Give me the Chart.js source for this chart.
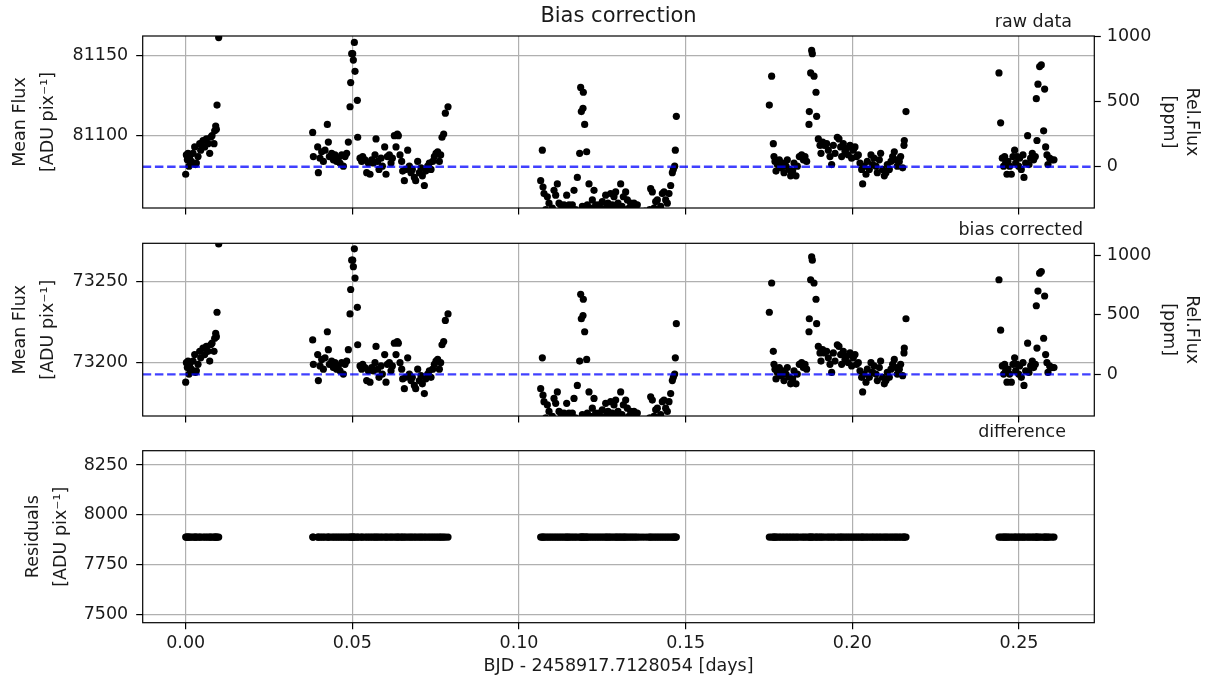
<!DOCTYPE html>
<html>
<head>
<meta charset="utf-8">
<title>Bias correction</title>
<script src="https://cdn.jsdelivr.net/npm/chart.js@4.4.1/dist/chart.umd.min.js"></script>
<style>
  body { margin: 0; background: #fff; }
  #wrap { position: relative; width: 1212px; height: 684px; }
  canvas { position: absolute; left: 0; }
</style>
</head>
<body>
<div id="wrap">
  <canvas id="rawChart" width="1212" height="216" style="top:0"></canvas>
  <canvas id="corrChart" width="1212" height="208" style="top:216px"></canvas>
  <canvas id="diffChart" width="1212" height="260" style="top:424px"></canvas>
</div>
<script>
// time since first exposure, one row group per visit [days]
const timeDays = [
  0.0000,0.0002,0.0005,0.0007,0.0010,0.0012,0.0017,0.0022,0.0027,0.0029,
  0.0032,0.0037,0.0042,0.0045,0.0052,0.0057,0.0062,0.0067,0.0072,0.0075,
  0.0079,0.0085,0.0087,0.0090,0.0092,0.0094,0.0099,

  0.0381,0.0383,0.0396,0.0398,0.0403,0.0408,0.0413,0.0418,0.0425,0.0428,
  0.0431,0.0438,0.0443,0.0448,0.0453,0.0458,0.0463,0.0468,0.0473,0.0478,
  0.0483,0.0488,0.0493,0.0495,0.0498,0.0501,0.0503,0.0506,0.0508,0.0515,
  0.0516,0.0523,0.0528,0.0531,0.0538,0.0543,0.0548,0.0553,0.0558,0.0563,
  0.0568,0.0571,0.0576,0.0580,0.0586,0.0590,0.0597,0.0601,0.0605,0.0611,
  0.0616,0.0620,0.0626,0.0631,0.0635,0.0638,0.0643,0.0648,0.0651,0.0656,
  0.0660,0.0666,0.0671,0.0676,0.0680,0.0686,0.0690,0.0696,0.0701,0.0706,
  0.0710,0.0716,0.0720,0.0726,0.0731,0.0736,0.0741,0.0746,0.0751,0.0756,
  0.0761,0.0765,0.0769,0.0774,0.0779,0.0787,

  0.1065,0.1070,0.1072,0.1075,0.1080,0.1085,0.1090,0.1095,0.1100,0.1105,
  0.1110,0.1115,0.1120,0.1125,0.1130,0.1135,0.1140,0.1143,0.1147,0.1150,
  0.1155,0.1160,0.1165,0.1170,0.1175,0.1182,0.1185,0.1187,0.1190,0.1192,
  0.1193,0.1197,0.1200,0.1203,0.1205,0.1210,0.1215,0.1220,0.1225,0.1230,
  0.1235,0.1240,0.1245,0.1250,0.1255,0.1260,0.1263,0.1267,0.1271,0.1275,
  0.1280,0.1285,0.1290,0.1293,0.1297,0.1301,0.1305,0.1309,0.1313,0.1317,
  0.1320,0.1325,0.1330,0.1335,0.1340,0.1345,0.1350,0.1355,0.1362,0.1370,
  0.1378,0.1386,0.1392,0.1395,0.1400,0.1405,0.1410,0.1415,0.1420,0.1425,
  0.1430,0.1435,0.1440,0.1445,0.1450,0.1455,0.1460,0.1463,0.1467,0.1469,
  0.1472,

  0.1751,0.1758,0.1763,0.1765,0.1768,0.1771,0.1775,0.1781,0.1785,0.1791,
  0.1795,0.1801,0.1805,0.1811,0.1815,0.1821,0.1825,0.1831,0.1835,0.1841,
  0.1848,0.1853,0.1858,0.1863,0.1870,0.1871,0.1875,0.1878,0.1880,0.1885,
  0.1891,0.1893,0.1898,0.1903,0.1906,0.1911,0.1916,0.1923,0.1928,0.1933,
  0.1938,0.1943,0.1948,0.1955,0.1960,0.1965,0.1968,0.1973,0.1978,0.1983,
  0.1988,0.1993,0.1998,0.2003,0.2008,0.2013,0.2018,0.2023,0.2028,0.2031,
  0.2035,0.2041,0.2045,0.2051,0.2056,0.2061,0.2065,0.2071,0.2075,0.2081,
  0.2085,0.2091,0.2096,0.2101,0.2105,0.2111,0.2116,0.2121,0.2126,0.2131,
  0.2135,0.2141,0.2145,0.2151,0.2155,0.2156,0.2161,

  0.2440,0.2445,0.2450,0.2454,0.2457,0.2460,0.2464,0.2467,0.2472,0.2477,
  0.2482,0.2487,0.2490,0.2494,0.2499,0.2502,0.2507,0.2512,0.2515,0.2520,
  0.2526,0.2530,0.2535,0.2540,0.2544,0.2549,0.2552,0.2554,0.2557,0.2562,
  0.2567,0.2574,0.2577,0.2580,0.2584,0.2587,0.2592,0.2599,0.2605
];

// mean flux before the bias frame is subtracted [ADU/pix]
const rawFlux = [
  81076,81088,81085,81089,81081,81087,81084,81089,81093,81082,
  81083,81087,81095,81091,81097,81093,81098,81095,81089,81099,
  81100,81095,81103,81106,81104,81119,81161,

  81102,81087,81093,81077,81086,81090,81084,81091,81107,81096,
  81087,81089,81085,81088,81084,81086,81083,81088,81081,81087,
  81089,81096,81118,81133,81151,81151,81147,81158,81140,81122,
  81099,81086,81084,81087,81085,81077,81083,81076,81085,81083,
  81088,81098,81084,81079,81086,81081,81093,81076,81087,81088,
  81083,81086,81100,81093,81101,81100,81088,81084,81078,81072,
  81079,81091,81081,81077,81079,81074,81072,81084,81077,81080,
  81075,81069,81078,81081,81083,81079,81084,81087,81089,81090,
  81084,81088,81099,81101,81114,81118,

  81072,81091,81068,81064,81054,81062,81058,81053,81055,81066,
  81063,81070,81058,81057,81054,81057,81055,81063,81054,81057,
  81055,81057,81066,81054,81074,81089,81130,81115,81056,81117,
  81127,81107,81054,81090,81057,81070,81055,81060,81066,81057,
  81054,81057,81055,81059,81054,81063,81056,81058,81055,81064,
  81057,81062,81065,81055,81058,81054,81070,81056,81062,81054,
  81065,81060,81055,81058,81054,81058,81055,81057,81052,81050,
  81053,81050,81054,81067,81065,81055,81059,81060,81054,81056,
  81064,81065,81060,81058,81064,81069,81077,81079,81081,81091,
  81112,

  81119,81137,81095,81087,81084,81078,81082,81085,81080,81083,
  81077,81081,81085,81079,81075,81078,81083,81075,81081,81087,
  81088,81085,81087,81084,81107,81115,81139,81153,81151,81137,
  81127,81112,81098,81094,81089,81096,81094,81095,81091,81087,
  81082,81094,81089,81099,81098,81093,81087,81095,81090,81092,
  81088,81094,81086,81091,81093,81087,81088,81083,81079,81070,
  81081,81076,81084,81079,81088,81082,81086,81081,81077,81085,
  81089,81079,81075,81077,81082,81079,81084,81087,81090,81085,
  81081,81084,81087,81080,81094,81097,81115,

  81139,81108,81086,81081,81087,81083,81076,81084,81081,81076,
  81087,81091,81083,81087,81081,81086,81079,81088,81074,81083,
  81100,81082,81086,81089,81085,81087,81123,81097,81132,81143,
  81144,81103,81129,81093,81088,81082,81086,81085,81085
];

// mean flux after bias subtraction [ADU/pix]
const correctedFlux = [
  73188,73200,73197,73201,73193,73199,73196,73201,73205,73194,
  73195,73199,73207,73203,73209,73205,73210,73207,73201,73211,
  73212,73207,73215,73218,73216,73231,73273,

  73214,73199,73205,73189,73198,73202,73196,73203,73219,73208,
  73199,73201,73197,73200,73196,73198,73195,73200,73193,73199,
  73201,73208,73230,73245,73263,73263,73259,73270,73252,73234,
  73211,73198,73196,73199,73197,73189,73195,73188,73197,73195,
  73200,73210,73196,73191,73198,73193,73205,73188,73199,73200,
  73195,73198,73212,73205,73213,73212,73200,73196,73190,73184,
  73191,73203,73193,73189,73191,73186,73184,73196,73189,73192,
  73187,73181,73190,73193,73195,73191,73196,73199,73201,73202,
  73196,73200,73211,73213,73226,73230,

  73184,73203,73180,73176,73166,73174,73170,73165,73167,73178,
  73175,73182,73170,73169,73166,73169,73167,73175,73166,73169,
  73167,73169,73178,73166,73186,73201,73242,73227,73168,73229,
  73239,73219,73166,73202,73169,73182,73167,73172,73178,73169,
  73166,73169,73167,73171,73166,73175,73168,73170,73167,73176,
  73169,73174,73177,73167,73170,73166,73182,73168,73174,73166,
  73177,73172,73167,73170,73166,73170,73167,73169,73164,73162,
  73165,73162,73166,73179,73177,73167,73171,73172,73166,73168,
  73176,73177,73172,73170,73176,73181,73189,73191,73193,73203,
  73224,

  73231,73249,73207,73199,73196,73190,73194,73197,73192,73195,
  73189,73193,73197,73191,73187,73190,73195,73187,73193,73199,
  73200,73197,73199,73196,73219,73227,73251,73265,73263,73249,
  73239,73224,73210,73206,73201,73208,73206,73207,73203,73199,
  73194,73206,73201,73211,73210,73205,73199,73207,73202,73204,
  73200,73206,73198,73203,73205,73199,73200,73195,73191,73182,
  73193,73188,73196,73191,73200,73194,73198,73193,73189,73197,
  73201,73191,73187,73189,73194,73191,73196,73199,73202,73197,
  73193,73196,73199,73192,73206,73209,73227,

  73251,73220,73198,73193,73199,73195,73188,73196,73193,73188,
  73199,73203,73195,73199,73193,73198,73191,73200,73186,73195,
  73212,73194,73198,73201,73197,73199,73235,73209,73244,73255,
  73256,73215,73241,73205,73200,73194,73198,73197,73197
];

// reference levels (dashed lines) = 0 ppm
const rawLevel = 81080.7;
const correctedLevel = 73192.8;

const xTicks = [0, 0.05, 0.10, 0.15, 0.20, 0.25];
const rawTicks = [81100, 81150];
const correctedTicks = [73200, 73250];
const residualTicks = [7500, 7750, 8000, 8250];
const ppmTicks = [0, 500, 1000];

const xLimits = [-0.0129, 0.2726];
const rawLimits = [81055, 81162];
const correctedLimits = [73167.2, 73273.4];
const residualLimits = [7457.8, 8321.8];

const FONT = 'DejaVu Sans';
const INK = '#1a1a1a';
const GRID = '#b0b0b0';
const LEFT_W = 142.7;   // left axis box width
const RIGHT_W = 117.7;  // right axis box width
const TICK_LEN = 6.5;

const toPpm = (flux, level) => (flux / level - 1) * 1e6;
const fixedTicks = values => scale => { scale.ticks = values.map(v => ({ value: v })); };
const points = ys => timeDays.map((t, i) => ({ x: t, y: ys[i] }));

// pin an axis box to a fixed size and drop the label overflow padding
function pinBox(prop, size) {
  return s => {
    s[prop] = size;
    s.paddingTop = 0;
    s.paddingBottom = 0;
    s.paddingLeft = 0;
    s.paddingRight = 0;
  };
}

// frame around the plot area + panel title / tag text
const panelText = {
  id: 'panelText',
  afterDraw(chart, args, opts) {
    const { ctx, chartArea: a } = chart;
    ctx.save();
    ctx.strokeStyle = '#000';
    ctx.lineWidth = 1.2;
    ctx.strokeRect(a.left, a.top, a.right - a.left, a.bottom - a.top);
    ctx.fillStyle = INK;
    ctx.textBaseline = 'middle';
    if (opts.title) {
      ctx.font = `21px "${FONT}"`;
      ctx.textAlign = 'center';
      ctx.fillText(opts.title, (a.left + a.right) / 2, opts.titleY);
    }
    if (opts.tag) {
      ctx.font = `17.5px "${FONT}"`;
      ctx.textAlign = 'right';
      ctx.fillText(opts.tag, opts.tagX, opts.tagY);
    }
    ctx.restore();
  }
};

function scatterSet(ys) {
  return {
    data: points(ys),
    pointRadius: 3.6,
    pointBackgroundColor: '#000',
    pointBorderWidth: 0,
    clip: 0,
    order: 1
  };
}

function levelLine(level) {
  return {
    type: 'line',
    data: [{ x: xLimits[0], y: level }, { x: xLimits[1], y: level }],
    borderColor: 'rgba(0,0,255,0.75)',
    borderWidth: 2.4,
    borderDash: [8.5, 3.7],
    pointRadius: 0,
    clip: 0,
    order: 0
  };
}

function makePanel(id, cfg) {
  const tickFont = { family: FONT, size: 17.5 };
  const scales = {
    x: {
      type: 'linear',
      min: xLimits[0],
      max: xLimits[1],
      afterBuildTicks: fixedTicks(xTicks),
      afterFit: pinBox('height', cfg.xHeight),
      grid: { color: GRID, lineWidth: 1.2, tickLength: TICK_LEN, tickColor: '#000', tickWidth: 1.2 },
      border: { display: false },
      ticks: {
        display: !!cfg.xTitle, padding: 3.6, color: INK, font: tickFont,
        maxRotation: 0, autoSkip: false, callback: v => v.toFixed(2)
      },
      title: {
        display: !!cfg.xTitle, text: cfg.xTitle, color: INK,
        font: { family: FONT, size: 17.5, lineHeight: 1.2 }, padding: { top: 0, bottom: 6.8 }
      }
    },
    y: {
      type: 'linear',
      position: 'left',
      min: cfg.limits[0],
      max: cfg.limits[1],
      afterBuildTicks: fixedTicks(cfg.yTicks),
      afterFit: pinBox('width', LEFT_W),
      grid: { color: GRID, lineWidth: 1.2, tickLength: TICK_LEN, tickColor: '#000', tickWidth: 1.2 },
      border: { display: false },
      ticks: { padding: 8, color: INK, font: tickFont, callback: v => String(v) },
      title: {
        display: true, text: cfg.yTitle, color: INK,
        font: { family: FONT, size: 17.5, lineHeight: '28px' }, padding: { top: cfg.yTitlePad, bottom: 0 }
      }
    }
  };
  if (cfg.level) {
    scales.ppm = {
      type: 'linear',
      position: 'right',
      min: toPpm(cfg.limits[0], cfg.level),
      max: toPpm(cfg.limits[1], cfg.level),
      afterBuildTicks: fixedTicks(ppmTicks),
      afterFit: pinBox('width', RIGHT_W),
      grid: { drawOnChartArea: false, tickLength: TICK_LEN, tickColor: '#000', tickWidth: 1.2 },
      border: { display: false },
      ticks: { padding: 6, color: INK, font: tickFont, callback: v => String(v) },
      title: {
        display: true, text: ['Rel.Flux', '[ppm]'], color: INK,
        font: { family: FONT, size: 17.5, lineHeight: '22.5px' }, padding: { top: 9.25, bottom: 0 }
      }
    };
  }
  return new Chart(document.getElementById(id), {
    type: 'scatter',
    data: { datasets: cfg.datasets },
    options: {
      responsive: false,
      animation: false,
      devicePixelRatio: 1,
      events: [],
      layout: { padding: { top: cfg.padTop, left: 0, right: cfg.level ? 0 : RIGHT_W, bottom: 0 } },
      plugins: {
        legend: { display: false },
        tooltip: { enabled: false },
        panelText: cfg.text
      },
      scales
    },
    plugins: [panelText]
  });
}

const residuals = rawFlux.map((f, i) => f - correctedFlux[i]);

makePanel('rawChart', {
  padTop: 36, xHeight: 8,
  limits: rawLimits, yTicks: rawTicks, level: rawLevel,
  yTitle: ['Mean Flux', '[ADU pix\u207B\u00B9]'], yTitlePad: 6,
  datasets: [scatterSet(rawFlux), levelLine(rawLevel)],
  text: { title: 'Bias correction', titleY: 17, tag: 'raw data', tagX: 1072, tagY: 22 }
});

makePanel('corrChart', {
  padTop: 27.3, xHeight: 8,
  limits: correctedLimits, yTicks: correctedTicks, level: correctedLevel,
  yTitle: ['Mean Flux', '[ADU pix\u207B\u00B9]'], yTitlePad: 6,
  datasets: [scatterSet(correctedFlux), levelLine(correctedLevel)],
  text: { tag: 'bias corrected', tagX: 1083, tagY: 14 }
});

makePanel('diffChart', {
  padTop: 26.7, xHeight: 61.3,
  limits: residualLimits, yTicks: residualTicks,
  yTitle: ['Residuals', '[ADU pix\u207B\u00B9]'], yTitlePad: 19,
  xTitle: 'BJD - 2458917.7128054 [days]',
  datasets: [scatterSet(residuals)],
  text: { tag: 'difference', tagX: 1066, tagY: 8.3 }
});
</script>
</body>
</html>
